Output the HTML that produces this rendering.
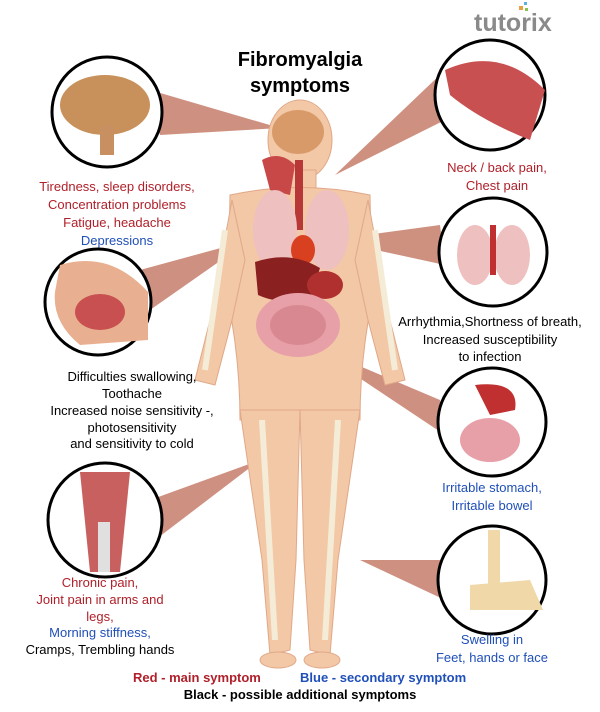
<!DOCTYPE html>
<html><head><meta charset="utf-8"><style>
body{margin:0;background:#fff;width:600px;height:707px;overflow:hidden}
svg text{font-family:"Liberation Sans",sans-serif}
</style></head><body>
<svg width="600" height="707" viewBox="0 0 600 707" xmlns="http://www.w3.org/2000/svg">
<text x="474" y="31" font-size="25" font-weight="bold" fill="#8a8a8a">tutorix</text>
<rect x="519" y="6" width="4" height="4" fill="#e8a040"/><rect x="524" y="2" width="3" height="3" fill="#5ab0e0"/><rect x="525" y="8" width="3" height="3" fill="#8cc050"/>
<text x="300" y="66" font-size="20" font-weight="bold" text-anchor="middle">Fibromyalgia</text>
<text x="300" y="92" font-size="20" font-weight="bold" text-anchor="middle">symptoms</text>
<g fill="#c98472" opacity="0.9">
<polygon points="150,90 160,135 280,128"/>
<polygon points="140,270 150,310 250,240"/>
<polygon points="150,500 155,540 260,460"/>
<polygon points="445,70 455,115 335,175"/>
<polygon points="440,225 445,265 330,240"/>
<polygon points="440,400 445,435 310,345"/>
<polygon points="440,560 445,600 360,560"/>
</g>
<g fill="#f3c8a6" stroke="#e0a888" stroke-width="1">
<ellipse cx="300" cy="140" rx="32" ry="40"/>
<rect x="284" y="170" width="32" height="30"/>
<path d="M230,195 Q300,180 370,195 L372,300 Q360,360 360,420 L240,420 Q240,360 228,300 Z"/>
<path d="M232,200 L210,320 L195,380 L215,385 L232,320 L245,260 Z"/>
<path d="M368,200 L390,320 L405,380 L385,385 L368,320 L355,260 Z"/>
<path d="M240,410 L300,410 L296,560 L290,650 L270,655 L262,560 Z"/>
<path d="M300,410 L360,410 L338,560 L330,655 L310,650 L304,560 Z"/>
<ellipse cx="278" cy="660" rx="18" ry="8"/><ellipse cx="322" cy="660" rx="18" ry="8"/>
</g>
<g stroke="#f5ecd8" stroke-width="6" fill="none">
<line x1="262" y1="420" x2="275" y2="640"/><line x1="338" y1="420" x2="325" y2="640"/>
<line x1="225" y1="230" x2="205" y2="370"/><line x1="375" y1="230" x2="395" y2="370"/>
</g>
<ellipse cx="298" cy="132" rx="26" ry="22" fill="#d99a6a"/>
<path d="M262,160 Q280,150 295,165 L290,195 L270,190 Z" fill="#c84848"/>
<rect x="295" y="160" width="8" height="70" fill="#b83838"/>
<ellipse cx="275" cy="230" rx="22" ry="40" fill="#eec0c0"/>
<ellipse cx="327" cy="230" rx="22" ry="40" fill="#eec0c0"/>
<ellipse cx="303" cy="250" rx="12" ry="15" fill="#d84020"/>
<path d="M255,262 Q290,250 320,268 L310,300 Q280,305 258,295 Z" fill="#8a2020"/>
<ellipse cx="325" cy="285" rx="18" ry="14" fill="#b03030"/>
<ellipse cx="298" cy="325" rx="42" ry="32" fill="#e8a0a8"/>
<ellipse cx="298" cy="325" rx="28" ry="20" fill="#d88890"/>
<g stroke="#000" stroke-width="3" fill="#fff">
<circle cx="107" cy="112" r="55"/><circle cx="98" cy="302" r="53"/><circle cx="105" cy="520" r="57"/>
<circle cx="490" cy="95" r="55"/><circle cx="493" cy="252" r="54"/><circle cx="492" cy="422" r="54"/><circle cx="492" cy="580" r="54"/>
</g>
<ellipse cx="105" cy="105" rx="45" ry="30" fill="#c8905a"/><rect x="100" y="125" width="14" height="30" fill="#c89060"/>
<path d="M60,265 Q110,250 148,292 L148,340 L80,345 Q52,322 55,292 Z" fill="#e8b090"/><ellipse cx="100" cy="312" rx="25" ry="18" fill="#c85050"/>
<path d="M80,472 L130,472 L120,572 L90,572 Z" fill="#c86060"/><rect x="98" y="522" width="12" height="50" fill="#e0e0e0"/>
<path d="M445,70 Q500,45 545,90 L530,140 Q480,120 450,95 Z" fill="#c85050"/>
<ellipse cx="475" cy="255" rx="18" ry="30" fill="#eec0c0"/><ellipse cx="512" cy="255" rx="18" ry="30" fill="#eec0c0"/><rect x="490" y="225" width="6" height="50" fill="#c03030"/>
<path d="M475,385 Q520,380 515,410 L490,415 Z" fill="#c03030"/><ellipse cx="490" cy="440" rx="30" ry="22" fill="#e8a0a8"/>
<rect x="488" y="530" width="12" height="55" fill="#f0d8a8"/><path d="M470,585 L530,580 L543,610 L470,610 Z" fill="#f0d8a8"/>
<g font-size="13" text-anchor="middle">
<text x="117" y="191" fill="#b0202a">Tiredness, sleep disorders,</text>
<text x="117" y="209" fill="#b0202a">Concentration problems</text>
<text x="117" y="227" fill="#b0202a">Fatigue, headache</text>
<text x="117" y="245" fill="#1f4fb8">Depressions</text>
<text x="132" y="381">Difficulties swallowing,</text>
<text x="132" y="398">Toothache</text>
<text x="132" y="415">Increased noise sensitivity -,</text>
<text x="132" y="432">photosensitivity</text>
<text x="132" y="448">and sensitivity to cold</text>
<text x="100" y="587" fill="#b0202a">Chronic pain,</text>
<text x="100" y="604" fill="#b0202a">Joint pain in arms and</text>
<text x="100" y="621" fill="#b0202a">legs,</text>
<text x="100" y="637" fill="#1f4fb8">Morning stiffness,</text>
<text x="100" y="654">Cramps, Trembling hands</text>
<text x="497" y="172" fill="#b0202a">Neck / back pain,</text>
<text x="497" y="190" fill="#b0202a">Chest pain</text>
<text x="490" y="326">Arrhythmia,Shortness of breath,</text>
<text x="490" y="344">Increased susceptibility</text>
<text x="490" y="361">to infection</text>
<text x="492" y="492" fill="#1f4fb8">Irritable stomach,</text>
<text x="492" y="510" fill="#1f4fb8">Irritable bowel</text>
<text x="492" y="644" fill="#1f4fb8">Swelling in</text>
<text x="492" y="662" fill="#1f4fb8">Feet, hands or face</text>
</g>
<g font-size="13" font-weight="bold">
<text x="133" y="682" fill="#b0202a">Red - main symptom</text>
<text x="300" y="682" fill="#1f4fb8">Blue - secondary symptom</text>
<text x="300" y="699" text-anchor="middle">Black - possible additional symptoms</text>
</g>
</svg>
</body></html>
